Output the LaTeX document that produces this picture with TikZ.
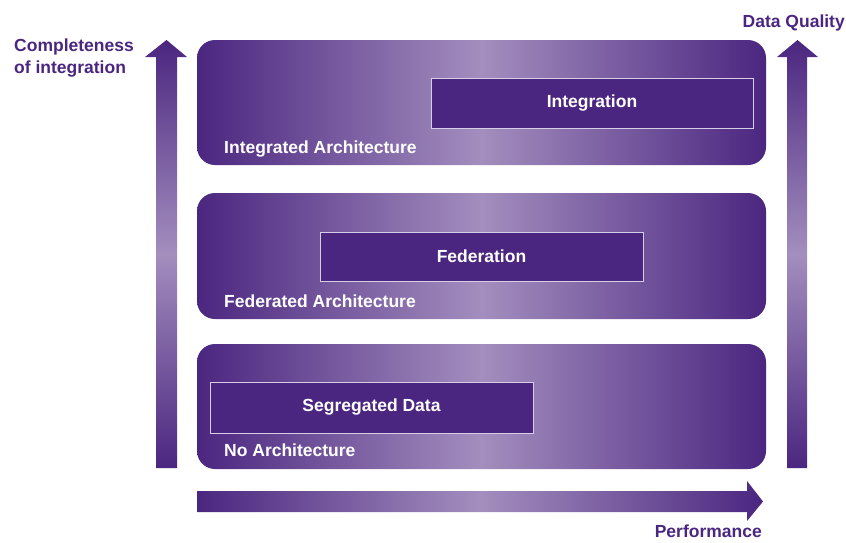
\documentclass[tikz,border=0pt]{standalone}
\usepackage{fontspec}
\setmainfont{Liberation Sans}
\definecolor{dk}{HTML}{4B2680}
\definecolor{lt}{HTML}{A38EBE}
\definecolor{edge}{HTML}{D6CDE6}
\begin{document}
\begin{tikzpicture}[x=1pt,y=-1pt,
  vpanel/.style={top color=dk,bottom color=dk,middle color=lt},
  hpanel/.style={left color=dk,right color=dk,middle color=lt},
  inner/.style={draw=edge,line width=0.8pt,fill=dk,text=white,font=\bfseries\fontsize{17.5}{20}\selectfont},
  wlabel/.style={text=white,font=\bfseries\fontsize{17.5}{20}\selectfont,anchor=base west,inner sep=0pt},
  plabel/.style={text=dk,font=\bfseries\fontsize{17.5}{21.5}\selectfont,inner sep=0pt}]
\useasboundingbox (0,0) rectangle (846,542);
% panels
\shade[rounded corners=18pt,hpanel] (197,40) rectangle (766,165);
\shade[rounded corners=18pt,hpanel] (197,193) rectangle (766,319);
\shade[rounded corners=18pt,hpanel] (197,344) rectangle (766,469);
% inner boxes
\node[inner,minimum width=322pt,minimum height=50pt] (integ) at (592,103) {Integration};
\node[inner,minimum width=323pt,minimum height=49pt] (fed) at (481.5,256.5) {Federation};
\node[inner,minimum width=323pt,minimum height=51pt] (seg) at (371.5,407.5) {Segregated Data};
% panel labels
\node[wlabel] (la) at (224,153) {Integrated Architecture};
\node[wlabel] (lb) at (224,307) {Federated Architecture};
\node[wlabel] (lc) at (224,456) {No Architecture};
% left arrow
\shade[vpanel] (156,468) -- (156,57) -- (145,57) -- (166.5,40) -- (187,57) -- (177,57) -- (177,468) -- cycle;
% right arrow
\shade[vpanel] (787,468) -- (787,57) -- (777,57) -- (797.5,40) -- (818,57) -- (807,57) -- (807,468) -- cycle;
% bottom arrow
\shade[hpanel] (197,491) -- (747,491) -- (747,481) -- (763,501.5) -- (747,521) -- (747,512) -- (197,512) -- cycle;
% axis labels
\node[plabel,align=left,anchor=north west] (ci) at (14,39) {Completeness\\of integration};
\node[plabel,anchor=base east] (dq) at (845,27) {Data Quality};
\node[plabel,anchor=base east] (pf) at (762,537) {Performance};
\end{tikzpicture}
\end{document}
